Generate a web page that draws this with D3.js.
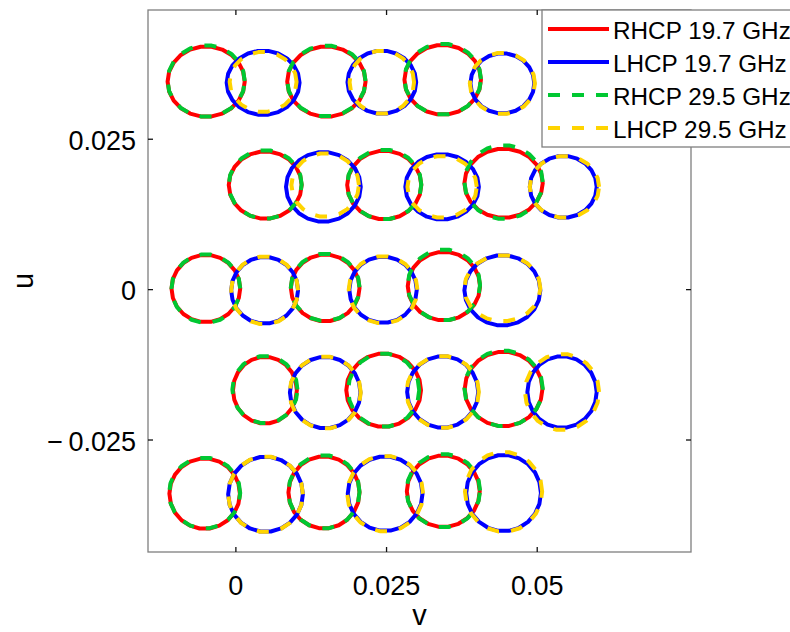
<!DOCTYPE html>
<html>
<head>
<meta charset="utf-8">
<script src="https://cdn.jsdelivr.net/npm/d3@7"></script>
<style>
body { margin: 0; background: #fff; }
text { font-family: "Liberation Sans", Arial, Helvetica, sans-serif; }
</style>
</head>
<body>
<div id="chart"></div>
<script>
// beam contours, one entry per beam: [v, u, rx, ry]
var rhcp197 = [
  [-0.00485, 0.0345, 0.0064, 0.00585], [0.0151, 0.0345, 0.0065, 0.00585], [0.0344, 0.0348, 0.00635, 0.0058],
  [0.00495, 0.0173, 0.00605, 0.0056], [0.0247, 0.0173, 0.00615, 0.0057], [0.0445, 0.0176, 0.0065, 0.00575],
  [-0.0049, 0.0001, 0.0057, 0.0056], [0.0149, 0.0002, 0.0057, 0.00555], [0.0346, 0.0005, 0.0060, 0.0057],
  [0.0049, -0.0168, 0.0053, 0.00555], [0.0246, -0.0168, 0.0062, 0.0061], [0.0445, -0.0166, 0.00645, 0.0062],
  [-0.0051, -0.0340, 0.00585, 0.00585], [0.0147, -0.0338, 0.0059, 0.0060], [0.0345, -0.0336, 0.00605, 0.00595]
];
var lhcp197 = [
  [0.0046, 0.0343, 0.00605, 0.00535], [0.0243, 0.0344, 0.0057, 0.00525], [0.0443, 0.0342, 0.0053, 0.0050],
  [0.0146, 0.0170, 0.0062, 0.0058], [0.0343, 0.0170, 0.0061, 0.00545], [0.0544, 0.0170, 0.00555, 0.00515],
  [0.00485, -0.0002, 0.00555, 0.00555], [0.0245, -0.0001, 0.0056, 0.0055], [0.0443, -0.0002, 0.0063, 0.00585],
  [0.0149, -0.0172, 0.00585, 0.00595], [0.0344, -0.0171, 0.0059, 0.00595], [0.0542, -0.0171, 0.00575, 0.00595],
  [0.0050, -0.0341, 0.0062, 0.00625], [0.02485, -0.0340, 0.0062, 0.0062], [0.0445, -0.0339, 0.0062, 0.00635]
];
var rhcp295 = [
  [-0.00485, 0.0346, 0.0064, 0.00595], [0.0151, 0.0346, 0.0065, 0.0059], [0.0344, 0.0349, 0.00635, 0.0059],
  [0.00495, 0.0174, 0.00605, 0.0057], [0.0247, 0.0174, 0.00615, 0.0058], [0.0445, 0.0178, 0.0065, 0.00615],
  [-0.0049, 0.0001, 0.0057, 0.0057], [0.0149, 0.0003, 0.0057, 0.0056], [0.0346, 0.0007, 0.0060, 0.0059],
  [0.0049, -0.0167, 0.0054, 0.0056], [0.0246, -0.0168, 0.0059, 0.0061], [0.0445, -0.0165, 0.0065, 0.0063],
  [-0.0051, -0.0339, 0.0059, 0.0059], [0.0147, -0.0337, 0.0059, 0.0061], [0.0345, -0.0335, 0.0061, 0.0061]
];
var lhcp295 = [
  [0.0046, 0.03445, 0.00555, 0.0050], [0.0243, 0.0344, 0.00535, 0.00525], [0.0443, 0.0342, 0.0054, 0.0051],
  [0.0149, 0.0173, 0.0056, 0.0053], [0.0343, 0.0170, 0.00575, 0.00515], [0.0546, 0.0170, 0.00575, 0.00515],
  [0.00485, -0.0002, 0.00555, 0.00565], [0.0245, -0.0001, 0.0057, 0.0056], [0.0443, 0.00015, 0.0063, 0.0055],
  [0.0149, -0.0172, 0.0059, 0.006], [0.0344, -0.0171, 0.006, 0.006], [0.0542, -0.0171, 0.00615, 0.00635],
  [0.0050, -0.0341, 0.0062, 0.0063], [0.02485, -0.0340, 0.0063, 0.0063], [0.0445, -0.0337, 0.0064, 0.00665]
];

var seriesNames = ["RHCP 19.7 GHz", "LHCP 19.7 GHz", "RHCP 29.5 GHz", "LHCP 29.5 GHz"];
var xTicks = [0, 0.025, 0.05];
var xTickLabels = ["0", "0.025", "0.05"];
var yTicks = [-0.025, 0, 0.025];
var yTickLabels = ["\u2212\u20090.025", "0", "0.025"];

var width = 790, height = 632;
var margin = {top: 10, left: 148};
var chartWidth = 543, chartHeight = 542;

var svg = d3.select("#chart").append("svg")
    .attr("width", width)
    .attr("height", height);

var g = svg.append("g")
    .attr("transform", `translate(${margin.left}, ${margin.top})`);

var xScale = d3.scaleLinear().domain([-0.0145, 0.0756]).range([0, chartWidth]);
var yScale = d3.scaleLinear().domain([-0.0437, 0.0464]).range([chartHeight, 0]);

g.append("rect")
    .attr("width", chartWidth)
    .attr("height", chartHeight)
    .attr("fill", "#fff")
    .attr("stroke", "#7f7f7f")
    .attr("stroke-width", 1.3);

// contour polygons
var nPts = 22;
var line = d3.line().curve(d3.curveLinearClosed);
function contour(b) {
  return d3.range(nPts).map(function(i) {
    var a = 2 * Math.PI * i / nPts;
    return [xScale(b[0] + b[2] * Math.cos(a)), yScale(b[1] + b[3] * Math.sin(a))];
  });
}

var series = [
  {data: rhcp197, color: "#ff0000", dash: null},
  {data: lhcp197, color: "#0000ff", dash: null},
  {data: rhcp295, color: "#00c832", dash: "12,12"},
  {data: lhcp295, color: "#ffd400", dash: "12,12"}
];

series.forEach(function(s) {
  g.append("g")
    .selectAll("path")
    .data(s.data)
    .join("path")
      .attr("d", d => line(contour(d)))
      .attr("fill", "none")
      .attr("stroke", s.color)
      .attr("stroke-width", 4)
      .attr("stroke-linejoin", "round")
      .attr("stroke-dasharray", s.dash);
});

// axes, ticks inward
var fs = 27;
var xAxis = d3.axisBottom(xScale).tickValues(xTicks)
    .tickFormat((d, i) => xTickLabels[i]).tickSizeInner(-5).tickSizeOuter(0).tickPadding(24);
var yAxis = d3.axisLeft(yScale).tickValues(yTicks)
    .tickFormat((d, i) => yTickLabels[i]).tickSizeInner(-5).tickSizeOuter(0).tickPadding(12);

var gx = g.append("g")
    .attr("class", "x axis")
    .attr("transform", `translate(0,${chartHeight})`)
    .call(xAxis);
var gy = g.append("g")
    .attr("class", "y axis")
    .call(yAxis);
g.append("g")
    .call(d3.axisTop(xScale).tickValues(xTicks).tickFormat("").tickSizeInner(-5).tickSizeOuter(0));
g.append("g")
    .attr("transform", `translate(${chartWidth},0)`)
    .call(d3.axisRight(yScale).tickValues(yTicks).tickFormat("").tickSizeInner(-5).tickSizeOuter(0));

g.selectAll(".domain").remove();
g.selectAll(".tick line").attr("stroke", "#111").attr("stroke-width", 1.3);
g.selectAll(".tick text")
    .attr("fill", "#000")
    .style("font-size", fs + "px")
    .style("font-family", "'Liberation Sans', Arial, Helvetica, sans-serif");
gy.selectAll(".tick text").attr("dy", "0.4em");

// axis titles
svg.append("text")
    .attr("x", margin.left + chartWidth / 2)
    .attr("y", 625)
    .attr("text-anchor", "middle")
    .style("font-size", "29px")
    .text("v");
svg.append("text")
    .attr("transform", `translate(33, ${margin.top + chartHeight / 2}) rotate(-90)`)
    .attr("text-anchor", "middle")
    .style("font-size", "29px")
    .text("u");

// legend
var legend = svg.append("g")
    .attr("transform", "translate(542, 10)");

legend.append("rect")
    .attr("width", 270)
    .attr("height", 137)
    .attr("fill", "#fff")
    .attr("stroke", "#7f7f7f")
    .attr("stroke-width", 1.3);

var items = legend.selectAll(".item")
    .data(series)
    .join("g")
      .attr("class", "item")
      .attr("transform", (d, i) => `translate(0, ${19 + i * 33})`);

items.append("line")
    .attr("x1", 6)
    .attr("x2", 67)
    .attr("stroke", d => d.color)
    .attr("stroke-width", 4)
    .attr("stroke-dasharray", d => d.dash);

items.append("text")
    .attr("x", 71)
    .attr("y", 10)
    .style("font-size", "24.3px")
    .text((d, i) => seriesNames[i]);
</script>
</body>
</html>
